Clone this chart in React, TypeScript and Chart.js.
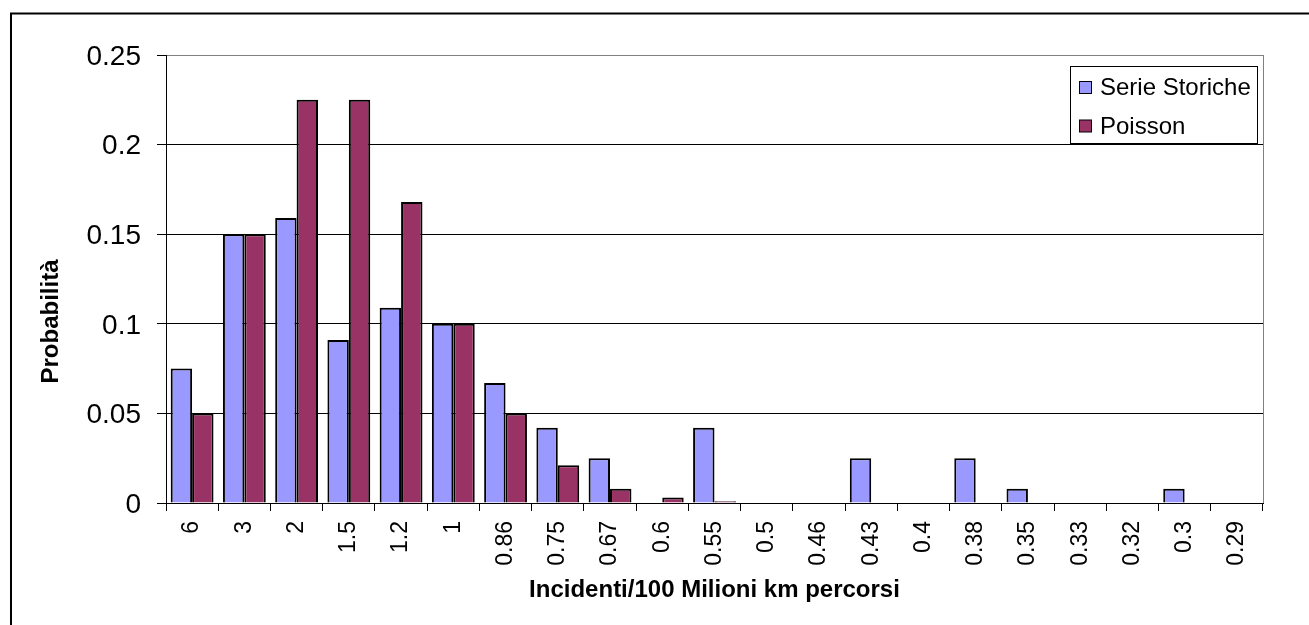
import React, { useEffect, useRef } from "react";
import { Chart, registerables } from "chart.js";

Chart.register(...registerables);

const categories = ["6", "3", "2", "1.5", "1.2", "1", "0.86", "0.75", "0.67", "0.6", "0.55", "0.5", "0.46", "0.43", "0.4", "0.38", "0.35", "0.33", "0.32", "0.3", "0.29"];
const serieStoriche = [0.075, 0.15, 0.159, 0.091, 0.109, 0.1, 0.067, 0.042, 0.025, 0, 0.042, 0, 0, 0.025, 0, 0.025, 0.008, 0, 0, 0.008, 0];
const poisson = [0.05, 0.15, 0.225, 0.225, 0.168, 0.1, 0.05, 0.021, 0.008, 0.003, 0.001, 0, 0, 0, 0, 0, 0, 0, 0, 0, 0];
const seriesNames = ["Serie Storiche", "Poisson"];
const seriesColors = ["#9999FF", "#993366"];
const xTitle = "Incidenti/100 Milioni km percorsi";
const yTitle = "Probabilità";
const yMin = 0;
const yMax = 0.25;
const yStep = 0.05;

const FONT = '"Liberation Sans", Arial, sans-serif';

const decorPlugin = {
  id: "decor",
  beforeDraw(chart: any) {
    const ctx = chart.ctx;
    ctx.save();
    ctx.fillStyle = "#fff";
    ctx.fillRect(0, 0, chart.width, chart.height);
    ctx.strokeStyle = "#000";
    ctx.lineWidth = 2;
    ctx.beginPath();
    ctx.moveTo(11, chart.height + 5);
    ctx.lineTo(11, 13.5);
    ctx.lineTo(chart.width + 5, 13.5);
    ctx.stroke();
    ctx.restore();
  },
  afterDatasetsDraw(chart: any) {
    const ctx = chart.ctx;
    const a = chart.chartArea;
    ctx.save();
    ctx.strokeStyle = "#808080";
    ctx.lineWidth = 1;
    ctx.beginPath();
    ctx.moveTo(Math.round(a.right) + 0.5, a.top);
    ctx.lineTo(Math.round(a.right) + 0.5, a.bottom);
    ctx.stroke();

    ctx.fillStyle = "#000";
    ctx.font = `bold 24px ${FONT}`;
    ctx.textAlign = "center";
    ctx.textBaseline = "alphabetic";
    ctx.translate(58, 321.5);
    ctx.rotate(-Math.PI / 2);
    ctx.fillText(yTitle, 0, 0);
    ctx.restore();

    ctx.save();
    const lx = 1070.5, ly = 66.5, lw = 187, lh = 77;
    ctx.fillStyle = "#fff";
    ctx.fillRect(lx, ly, lw, lh);
    ctx.strokeStyle = "#000";
    ctx.lineWidth = 1;
    ctx.strokeRect(lx, ly, lw, lh);
    const ds = chart.data.datasets;
    ctx.font = `24px ${FONT}`;
    ctx.textAlign = "left";
    ctx.textBaseline = "middle";
    ds.forEach((d: any, i: number) => {
      const cy = 87.5 + i * 38.5;
      ctx.fillStyle = d.backgroundColor;
      ctx.fillRect(1079.5, cy - 6, 12, 12);
      ctx.strokeStyle = "#000";
      ctx.strokeRect(1079.5, cy - 6, 12, 12);
      ctx.fillStyle = "#000";
      ctx.fillText(d.label, 1100, cy + 1);
    });
    ctx.restore();
  },
};

export default function App() {
  const ref = useRef<HTMLCanvasElement | null>(null);
  useEffect(() => {
    if (!ref.current) return;
    const chart = new Chart(ref.current, {
      type: "bar",
      data: {
        labels: categories,
        datasets: [
          { label: seriesNames[0], data: serieStoriche, backgroundColor: seriesColors[0], borderColor: "#000", borderWidth: 2 },
          { label: seriesNames[1], data: poisson, backgroundColor: seriesColors[1], borderColor: "#000", borderWidth: 2 },
        ],
      },
      options: {
        responsive: false,
        animation: false,
        devicePixelRatio: 1,
        layout: { padding: { left: 0, top: 55, right: 46, bottom: 0 } },
        datasets: { bar: { categoryPercentage: 0.82, barPercentage: 1 } },
        plugins: { legend: { display: false }, tooltip: { enabled: false } },
        scales: {
          x: {
            afterFit: (s: any) => { s.height = 122; },
            grid: { offset: true, drawOnChartArea: false, tickLength: 8, color: "#000", tickColor: "#000" },
            border: { display: true, color: "#000", width: 1 },
            ticks: { autoSkip: false, minRotation: 90, maxRotation: 90, padding: 10, color: "#000", font: { family: FONT, size: 23 } },
            title: { display: true, text: xTitle, color: "#000", font: { family: FONT, size: 24, weight: "bold" }, padding: { top: 0, bottom: 20 } },
          },
          y: {
            min: yMin,
            max: yMax,
            afterFit: (s: any) => { s.width = 166; },
            grid: {
              color: (c: any) => (c.tick && Math.abs(c.tick.value - yMax) < 1e-9 ? "#808080" : "#000"),
              tickColor: "#000",
              tickLength: 9,
            },
            border: { display: true, color: "#000", width: 1 },
            ticks: {
              stepSize: yStep,
              padding: 16,
              labelOffset: 2,
              color: "#000",
              font: { family: FONT, size: 28 },
              callback: (v: any) => String(Number(Number(v).toFixed(2))),
            },
          },
        },
      },
      plugins: [decorPlugin],
    } as any);
    return () => chart.destroy();
  }, []);
  return (
    <div style={{ position: "absolute", left: 0, top: 0, width: 1309, height: 625, background: "#fff" }}>
      <canvas ref={ref} width={1309} height={625} style={{ display: "block", width: 1309, height: 625 }} />
    </div>
  );
}
